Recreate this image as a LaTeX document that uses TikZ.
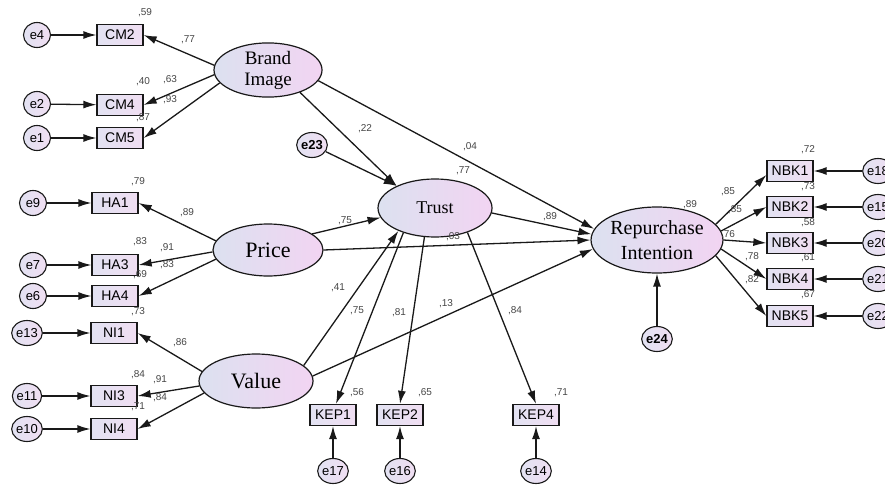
\documentclass[tikz,border=0pt]{standalone}
\usepackage{fontspec}
\setmainfont{Liberation Serif}
\setsansfont{Liberation Sans}
\usetikzlibrary{shapes.geometric,arrows.meta}
\definecolor{latL}{RGB}{220,225,240}
\definecolor{latR}{RGB}{242,212,242}
\definecolor{boxL}{RGB}{226,226,242}
\definecolor{boxR}{RGB}{240,222,242}
\definecolor{lineC}{RGB}{25,25,25}
\definecolor{numC}{RGB}{70,70,70}
\begin{document}
\begin{tikzpicture}[x=1pt,y=-1pt,
  lat/.style={ellipse,draw=lineC,line width=1.2pt,left color=latL,right color=latR,inner sep=0pt,align=center},
  obs/.style={rectangle,draw=lineC,line width=1.3pt,left color=boxL,right color=boxR,minimum width=46pt,minimum height=21pt,inner sep=0pt,font=\sffamily\fontsize{14}{14}\selectfont},
  err/.style={ellipse,draw=lineC,line width=1.1pt,left color=boxL,right color=boxR,minimum width=27pt,minimum height=25pt,inner sep=0pt,font=\sffamily\fontsize{13}{13}\selectfont},
  coef/.style={font=\sffamily\fontsize{10}{10}\selectfont,text=numC,inner sep=0pt},
  pth/.style={draw=lineC,line width=1.3pt,-{Latex[length=13pt,width=8pt]}},
]
\useasboundingbox (0,0) rectangle (885,484);
\clip (0,0) rectangle (885,484);
\fill[white] (0,0) rectangle (885,484);

% latent variables
\node[lat,minimum width=108pt,minimum height=52pt,font=\rmfamily\fontsize{19}{21}\selectfont] (BI) at (268,70) {Brand\\Image};
\node[lat,minimum width=110pt,minimum height=52pt,font=\rmfamily\fontsize{22}{24}\selectfont] (PR) at (268,250) {Price};
\node[lat,minimum width=114pt,minimum height=54pt,font=\rmfamily\fontsize{22}{24}\selectfont] (VA) at (256,381) {Value};
\node[lat,minimum width=114pt,minimum height=58pt,font=\rmfamily\fontsize{18}{20}\selectfont] (TR) at (435,208) {Trust};
\node[lat,minimum width=130pt,minimum height=66pt,font=\rmfamily\fontsize{20}{25}\selectfont] (RI) at (657,240) {Repurchase\\Intention};

% observed variables
\node[obs] (CM2) at (120,35) {CM2};
\node[obs] (CM4) at (120,105) {CM4};
\node[obs] (CM5) at (120,138) {CM5};
\node[obs] (HA1) at (115,203) {HA1};
\node[obs] (HA3) at (115,265) {HA3};
\node[obs] (HA4) at (115,296) {HA4};
\node[obs] (NI1) at (114,333) {NI1};
\node[obs] (NI3) at (114,396) {NI3};
\node[obs] (NI4) at (114,429) {NI4};
\node[obs] (KEP1) at (333,415) {KEP1};
\node[obs] (KEP2) at (400,415) {KEP2};
\node[obs] (KEP4) at (536,415) {KEP4};
\node[obs] (NBK1) at (790,171) {NBK1};
\node[obs] (NBK2) at (790,207) {NBK2};
\node[obs] (NBK3) at (790,243) {NBK3};
\node[obs] (NBK4) at (790,279) {NBK4};
\node[obs] (NBK5) at (790,316) {NBK5};

% error terms
\node[err] (e4) at (37,35) {e4};
\node[err] (e2) at (37,104) {e2};
\node[err] (e1) at (37,138) {e1};
\node[err] (e9) at (33,203) {e9};
\node[err] (e7) at (33,265) {e7};
\node[err] (e6) at (33,296) {e6};
\node[err] (e13) at (27,333) {e13};
\node[err] (e11) at (27,396) {e11};
\node[err] (e10) at (27,429) {e10};
\node[err] (e17) at (333,471) {e17};
\node[err] (e16) at (400,471) {e16};
\node[err] (e14) at (536,471) {e14};
\node[err] (e18) at (878,171) {e18};
\node[err] (e15) at (878,207) {e15};
\node[err] (e20) at (878,243) {e20};
\node[err] (e21) at (878,279) {e21};
\node[err] (e22) at (878,316) {e22};
\node[err,font=\sffamily\bfseries\fontsize{13}{13}\selectfont] (e23) at (312,145) {e23};
\node[err,font=\sffamily\bfseries\fontsize{13}{13}\selectfont] (e24) at (657,339) {e24};

% error arrows
\foreach \e/\v in {e4/CM2,e2/CM4,e1/CM5,e9/HA1,e7/HA3,e6/HA4,e13/NI1,e11/NI3,e10/NI4,e17/KEP1,e16/KEP2,e14/KEP4,e18/NBK1,e15/NBK2,e20/NBK3,e21/NBK4,e22/NBK5,e24/RI}
  \draw[pth] (\e) -- (\v);
\draw[pth] (e23) -- (TR.150);

% measurement paths
\draw[pth] (BI.175) -- (CM2.east);
\draw[pth] (BI.185) -- (CM4.east);
\draw[pth] (BI.195) -- (CM5.east);
\draw[pth] (PR.170) -- (HA1.east);
\draw[pth] (PR.182) -- (HA3.east);
\draw[pth] (PR.190) -- (HA4.east);
\draw[pth] (VA.170) -- (NI1.east);
\draw[pth] (VA.185) -- (NI3.east);
\draw[pth] (VA.193) -- (NI4.east);
\draw[pth] (TR.218) -- ([xshift=3pt]KEP1.north);
\draw[pth] (TR.250) -- (KEP2.north);
\draw[pth] (TR.-37) -- (KEP4.north);
\draw[pth] (RI.15) -- ([yshift=-4pt]NBK1.west);
\draw[pth] (RI.8) -- (NBK2.west);
\draw[pth] (RI.0) -- (NBK3.west);
\draw[pth] (RI.-8) -- (NBK4.west);
\draw[pth] (RI.-15) -- (NBK5.west);

% structural paths
\draw[pth] (BI.-35) -- (TR.150);
\draw[pth] (BI.-12) -- (RI.170);
\draw[pth] (PR.20) -- (TR.190);
\draw[pth] (PR.0) -- (RI.180);
\draw[pth] (VA.18) -- (TR.212);
\draw[pth] (VA.5) -- (RI.188);
\draw[pth] (TR.-5) -- (RI.175);

% coefficients
\foreach \x/\y/\t in {145/13/{,59},188/40/{,77},143/82/{,40},170/80/{,63},170/100/{,93},143/118/{,87},
  138/182/{,79},187/213/{,89},140/242/{,83},167/248/{,91},167/265/{,83},140/275/{,69},138/312/{,73},
  180/343/{,86},138/375/{,84},160/380/{,91},160/398/{,84},138/407/{,71},
  365/129/{,22},470/147/{,04},463/171/{,77},345/221/{,75},550/217/{,89},453/237/{,03},338/288/{,41},
  357/311/{,75},399/313/{,81},446/304/{,13},515/311/{,84},357/393/{,56},425/393/{,65},561/393/{,71},
  690/205/{,89},728/192/{,85},735/210/{,85},728/235/{,76},752/257/{,78},752/280/{,82},
  808/150/{,72},808/187/{,73},808/223/{,58},808/258/{,61},808/295/{,67}}
  \node[coef] at (\x,\y) {\t};
\end{tikzpicture}
\end{document}
